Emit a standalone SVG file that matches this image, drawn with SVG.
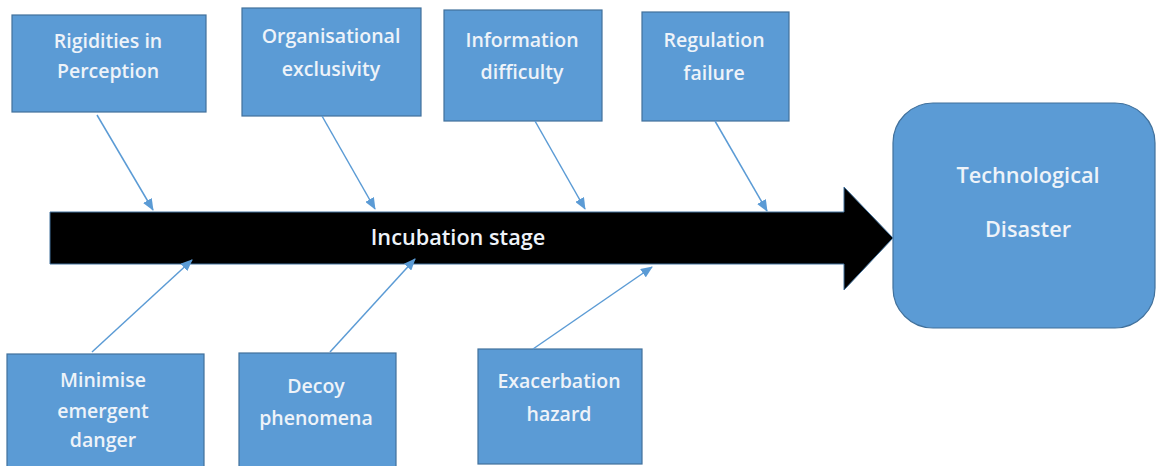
<svg xmlns="http://www.w3.org/2000/svg" width="1156" height="466" viewBox="0 0 1156 466">
<style>
.box{fill:#5b9bd5;stroke:#41719c;stroke-width:1.2}
.t{font-family:"Open Sans","Liberation Sans",sans-serif;font-size:19.5px;font-weight:600;fill:#eef3f9;text-anchor:middle}
.big{font-size:21.7px}
.c{stroke:#5b9bd5;stroke-width:1.5;fill:none;marker-end:url(#ah)}
</style>
<defs>
<marker id="ah" viewBox="0 0 12 10" refX="11" refY="5" markerWidth="12" markerHeight="10" markerUnits="userSpaceOnUse" orient="auto">
<path d="M0,0 L12,5 L0,10 Z" fill="#5b9bd5"/>
</marker>
</defs>
<rect width="1156" height="466" fill="#ffffff"/>
<g id="spine">
<path d="M50,212 L844,212 L844,187 L893,238 L844,290 L844,264 L50,264 Z" fill="#000000" stroke="#41719c" stroke-width="1"/>
<text class="t big" x="458" y="245">Incubation stage</text>
</g>
<g id="n-rigidities">
<rect class="box" x="12" y="15" width="194" height="97"/>
<text class="t" x="108" y="48">Rigidities in</text>
<text class="t" x="108" y="78">Perception</text>
</g>
<g id="n-organisational">
<rect class="box" x="242" y="8" width="179" height="108"/>
<text class="t" x="331" y="43">Organisational</text>
<text class="t" x="331" y="76">exclusivity</text>
</g>
<g id="n-information">
<rect class="box" x="444" y="10" width="158" height="111"/>
<text class="t" x="522" y="47">Information</text>
<text class="t" x="522" y="79">difficulty</text>
</g>
<g id="n-regulation">
<rect class="box" x="642" y="12" width="147" height="109"/>
<text class="t" x="714" y="47">Regulation</text>
<text class="t" x="714" y="80">failure</text>
</g>
<g id="n-disaster">
<rect class="box" x="893" y="103" width="262" height="225" rx="40" ry="40"/>
<text class="t big" x="1028" y="183">Technological</text>
<text class="t big" x="1028" y="237">Disaster</text>
</g>
<g id="n-minimise">
<rect class="box" x="7" y="354" width="197" height="120"/>
<text class="t" x="103" y="387">Minimise</text>
<text class="t" x="103" y="418">emergent</text>
<text class="t" x="103" y="447">danger</text>
</g>
<g id="n-decoy">
<rect class="box" x="239" y="353" width="157" height="120"/>
<text class="t" x="316" y="393">Decoy</text>
<text class="t" x="316" y="425">phenomena</text>
</g>
<g id="n-exacerbation">
<rect class="box" x="478" y="349" width="164" height="115"/>
<text class="t" x="559" y="388">Exacerbation</text>
<text class="t" x="559" y="421">hazard</text>
</g>
<g id="connectors">
<line class="c" x1="97" y1="115" x2="153" y2="210"/>
<line class="c" x1="322" y1="116" x2="375" y2="209"/>
<line class="c" x1="535" y1="121" x2="585" y2="209"/>
<line class="c" x1="715" y1="121" x2="767" y2="211"/>
<line class="c" x1="92" y1="352" x2="192" y2="260"/>
<line class="c" x1="330" y1="352" x2="415" y2="259"/>
<line class="c" x1="533" y1="349" x2="652" y2="267"/>
</g>
</svg>
